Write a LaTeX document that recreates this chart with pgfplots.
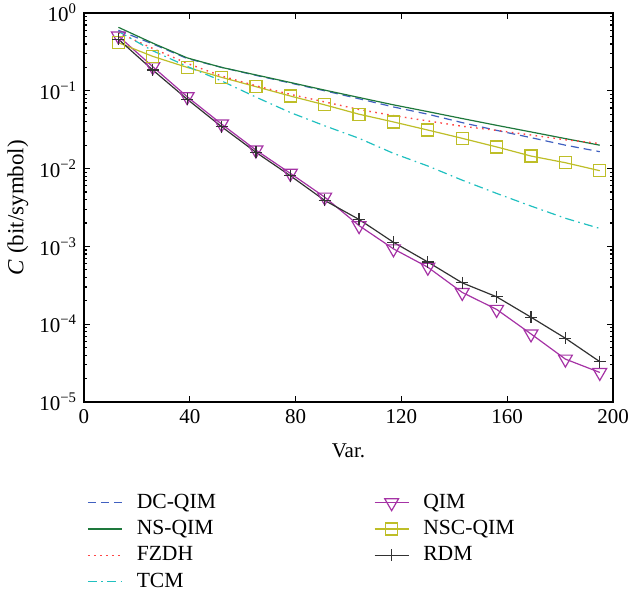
\documentclass[border=0pt]{standalone}
\usepackage{fontspec}
\setmainfont{Liberation Serif}
\usepackage{pgfplots}
\pgfplotsset{compat=1.18}
\definecolor{cDC}{RGB}{64,96,192}
\definecolor{cNS}{RGB}{30,120,60}
\definecolor{cFZ}{RGB}{255,70,70}
\definecolor{cTC}{RGB}{32,192,192}
\definecolor{cQI}{RGB}{165,50,165}
\definecolor{cNSC}{RGB}{190,190,40}
\definecolor{cRD}{RGB}{50,50,50}
\begin{document}
\begin{tikzpicture}
\begin{axis}[
  name=ax,
  width=264.5pt, height=194.5pt, scale only axis,
  font=\fontsize{10.5}{12.5}\selectfont,
  xmin=0, xmax=200, ymin=1e-5, ymax=1,
  ymode=log,
  xtick={0,40,80,120,160,200},
  /pgf/number format/assume math mode=true,
  xticklabel style={inner xsep=0pt},
  yticklabel style={inner ysep=0pt},
  ytick={1e-5,1e-4,1e-3,1e-2,1e-1,1},
  yticklabels={10\textsuperscript{−5},10\textsuperscript{−4},10\textsuperscript{−3},10\textsuperscript{−2},10\textsuperscript{−1},10\textsuperscript{0}},
  minor ytick={2e-5,3e-5,4e-5,5e-5,6e-5,7e-5,8e-5,9e-5,2e-4,3e-4,4e-4,5e-4,6e-4,7e-4,8e-4,9e-4,2e-3,3e-3,4e-3,5e-3,6e-3,7e-3,8e-3,9e-3,2e-2,3e-2,4e-2,5e-2,6e-2,7e-2,8e-2,9e-2,0.2,0.3,0.4,0.5,0.6,0.7,0.8,0.9},
  major tick length=2.8pt, minor tick length=1.6pt,
  axis line style={line width=0.8pt},
  every tick/.style={black, line width=0.6pt},
  xlabel={Var.},
  ylabel={\textit{C} (bit/symbol)},
  every axis x label/.style={at={(axis description cs:0.5,-0.126)}, anchor=center},
  every axis y label/.style={at={(axis description cs:-0.125,0.5)}, rotate=90, anchor=center, font=\fontsize{11.5}{13}\selectfont},
  legend columns=2,
  legend cell align=left,
  legend style={draw=none, fill=none, at={(axis description cs:-0.006,-0.215)}, anchor=north west,
    font=\fontsize{10.8}{12.5}\selectfont,
    /tikz/every odd column/.append style={column sep=5pt},
    /tikz/column 2/.append style={column sep=77pt},
    row sep=0.5pt},
]
\addplot[cDC, line width=0.6pt, dash pattern=on 4pt off 2.5pt] coordinates {
(13,0.60) (26,0.40) (39,0.26) (52,0.20) (65,0.158) (78,0.126) (91,0.10) (104,0.079) (117,0.062) (130,0.050) (143,0.039) (156,0.031) (169,0.025) (182,0.020) (195,0.0165)};
\addlegendentry{DC-QIM}
\addplot[cQI, line width=0.6pt, mark=triangle, mark size=4pt, mark options={rotate=180, solid}] coordinates {
(13,0.506) (26,0.204) (39,0.084) (52,0.0374) (65,0.0173) (78,0.0087) (91,0.0043) (104,0.00185) (117,0.00093) (130,0.00054) (143,0.000256) (156,0.000155) (169,0.000075) (182,0.0000356) (195,0.000024)};
\addlegendentry{QIM}
\addplot[cNS, line width=0.6pt] coordinates {
(13,0.655) (26,0.41) (39,0.265) (52,0.20) (65,0.16) (78,0.128) (91,0.102) (104,0.082) (117,0.066) (130,0.054) (143,0.044) (156,0.036) (169,0.0296) (182,0.0243) (195,0.020)};
\addlegendentry{NS-QIM}
\addplot[cNSC, line width=0.6pt, mark=square, mark size=3pt] coordinates {
(13,0.415) (26,0.277) (39,0.20) (52,0.149) (65,0.113) (78,0.0857) (91,0.066) (104,0.050) (117,0.0398) (130,0.0313) (143,0.0245) (156,0.019) (169,0.0145) (182,0.0119) (195,0.0094)};
\addlegendentry{NSC-QIM}
\addplot[cFZ, line width=0.7pt, dash pattern=on 0.8pt off 2.2pt] coordinates {
(13,0.56) (26,0.35) (39,0.225) (52,0.155) (65,0.116) (78,0.09) (91,0.072) (104,0.0575) (117,0.048) (130,0.041) (143,0.035) (156,0.031) (169,0.027) (182,0.0235) (195,0.021)};
\addlegendentry{FZDH}
\addplot[cRD, line width=0.6pt, mark=+, mark size=3pt] coordinates {
(13,0.46) (26,0.185) (39,0.078) (52,0.0346) (65,0.0162) (78,0.0081) (91,0.0039) (104,0.00222) (117,0.00113) (130,0.00063) (143,0.00034) (156,0.000225) (169,0.000123) (182,0.000066) (195,0.000033)};
\addlegendentry{RDM}
\addplot[cTC, line width=0.6pt, dash pattern=on 4.5pt off 2.2pt on 0.8pt off 2.2pt] coordinates {
(13,0.58) (26,0.327) (39,0.206) (52,0.134) (65,0.083) (78,0.0526) (91,0.0355) (104,0.0245) (117,0.0157) (130,0.0108) (143,0.0071) (156,0.0048) (169,0.0033) (182,0.0023) (195,0.0017)};
\addlegendentry{TCM}
\end{axis}
\path ([shift={(-42pt,-97pt)}]ax.south west) rectangle ([shift={(8.5pt,6.5pt)}]ax.north east);
\end{tikzpicture}
\end{document}
